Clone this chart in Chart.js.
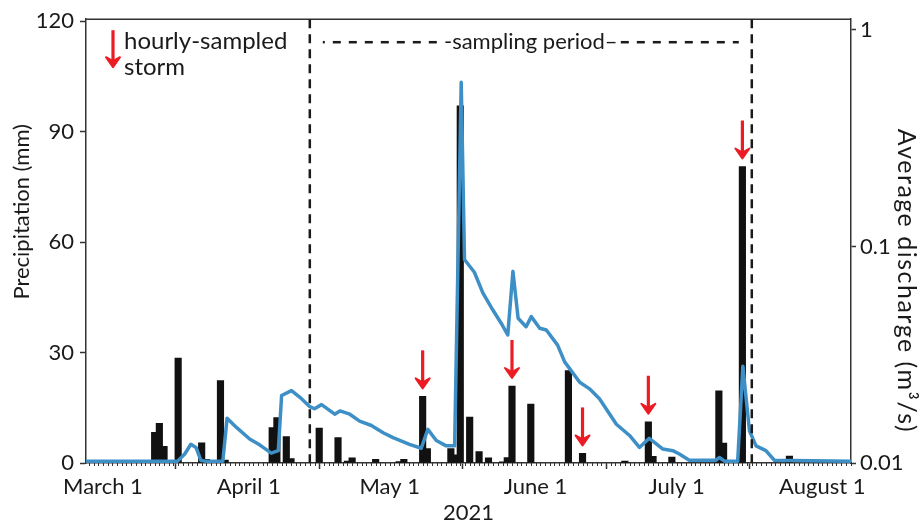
<!DOCTYPE html>
<html>
<head>
<meta charset="utf-8">
<script src="https://cdn.jsdelivr.net/npm/chart.js@4.4.0/dist/chart.umd.min.js"></script>
<style>
  html, body { margin: 0; padding: 0; background: #fff; }
  #wrap { width: 921px; height: 523px; }
</style>
</head>
<body>
<div id="wrap"><canvas id="chart"></canvas></div>
<script>
// x axis is counted in days after March 1, 2021
const monthTickDates = ['2021-03-01', '2021-04-01', '2021-05-01', '2021-06-01', '2021-07-01', '2021-08-01'];
const monthTickLabels = ['March 1', 'April 1', 'May 1', 'June 1', 'July 1', 'August 1'];
const xRange = [-3.6, 159.1];

// daily precipitation (mm)
const rainDates = [
    '2021-03-12', '2021-03-13', '2021-03-14', '2021-03-17', '2021-03-22', '2021-03-23',
    '2021-03-26', '2021-03-27', '2021-04-06', '2021-04-07', '2021-04-09', '2021-04-10',
    '2021-04-16', '2021-04-20', '2021-04-22', '2021-04-23', '2021-04-28', '2021-05-03',
    '2021-05-04', '2021-05-08', '2021-05-09', '2021-05-14', '2021-05-15', '2021-05-16',
    '2021-05-18', '2021-05-20', '2021-05-22', '2021-05-25', '2021-05-26', '2021-05-27',
    '2021-05-31', '2021-06-08', '2021-06-11', '2021-06-20', '2021-06-25', '2021-06-26',
    '2021-06-30', '2021-07-10', '2021-07-11', '2021-07-15', '2021-07-25'
];
const rainMM = [
    8.3, 10.8, 4.5, 28.5, 5.5, 1.0,
    22.4, 0.8, 9.6, 12.3, 7.2, 1.2,
    9.5, 6.9, 0.5, 1.4, 1.0, 0.4,
    1.0, 18.1, 3.9, 3.9, 2.2, 97,
    12.5, 3.1, 1.4, 0.3, 1.5, 20.9,
    16.0, 25.1, 2.6, 0.5, 11.2, 1.8,
    1.6, 19.6, 5.4, 80.5, 1.9
];

// storms sampled hourly (red arrows)
const stormDates = ['2021-05-08', '2021-05-27', '2021-06-11', '2021-06-25', '2021-07-15'];

// average discharge (m3/s), read at breakpoints of the curve
const flowDay = [
    -3.6, 15.9, 17.4, 18.7, 19.8, 20.8, 21.7, 25.5, 26.4, 28.4,
    31.2, 33.4, 35.8, 37.3, 38.0, 40.1, 41.9, 44.0, 45.0, 46.5,
    49.3, 50.4, 52.5, 54.6, 57.1, 59.6, 61.7, 65.2, 67.7, 69.1,
    70.9, 73.0, 74.8, 76.2, 76.9, 78.0, 79.0, 80.8, 82.9, 84.7,
    86.1, 87.2, 88.3, 90.0, 91.1, 92.9, 94.3, 96.7, 98.2, 101.4,
    103.5, 105.6, 109.2, 112.0, 114.1, 116.2, 119.1, 121.2, 122.6, 124.7,
    130.4, 131.1, 132.2, 135.0, 136.1, 137.5, 138.9, 141.0, 142.8, 159.1
];
const flowM3s = [
    0.0102, 0.0102, 0.011, 0.0122, 0.0118, 0.0103, 0.0102, 0.0102, 0.0161, 0.0146,
    0.0129, 0.0121, 0.0111, 0.0114, 0.0205, 0.0216, 0.0201, 0.0182, 0.0178, 0.0186,
    0.0168, 0.0174, 0.0168, 0.0156, 0.0149, 0.0138, 0.0131, 0.0122, 0.0117, 0.0143,
    0.0127, 0.0120, 0.0120, 0.573, 0.087, 0.081, 0.076, 0.061, 0.051, 0.0442,
    0.039, 0.0767, 0.0466, 0.0426, 0.0474, 0.0419, 0.0411, 0.035, 0.0293, 0.0236,
    0.0220, 0.0198, 0.0151, 0.0134, 0.0118, 0.0130, 0.0116, 0.0114, 0.0110, 0.0103,
    0.0103, 0.0106, 0.0102, 0.0102, 0.028, 0.0141, 0.0120, 0.0114, 0.0103, 0.0102
];

const leftTicks = [0, 30, 60, 90, 120];
const rightTicks = [0.01, 0.1, 1];
const samplingPeriod = ['2021-04-14', '2021-07-17'];

const FONT = 'Lato';
const INK = '#1a1a1a';
const RED = '#ec1c24';

const dayOf = (s) => {
    const [y, m, d] = s.split('-').map(Number);
    return (Date.UTC(y, m - 1, d) - Date.UTC(2021, 2, 1)) / 86400000;
};

function drawArrow(ctx, x, yTop, yTip) {
    ctx.save();
    ctx.strokeStyle = RED;
    ctx.fillStyle = RED;
    ctx.lineWidth = 3.2;
    ctx.beginPath();
    ctx.moveTo(x, yTop);
    ctx.lineTo(x, yTip - 6);
    ctx.stroke();
    ctx.lineJoin = 'round';
    ctx.lineWidth = 2;
    ctx.beginPath();
    ctx.moveTo(x - 7, yTip - 10);
    ctx.lineTo(x, yTip);
    ctx.lineTo(x + 7, yTip - 10);
    ctx.lineTo(x, yTip - 6);
    ctx.closePath();
    ctx.fill();
    ctx.stroke();
    ctx.restore();
}

// everything drawn on top of the datasets: frame, minor ticks, sampling period, arrows, titles
const annotations = {
    id: 'annotations',
    afterDatasetsDraw(chart) {
        const { ctx, chartArea: a, scales } = chart;
        const xs = scales.x, ys = scales.y;
        ctx.save();

        // top frame line
        ctx.strokeStyle = '#333';
        ctx.lineWidth = 1.5;
        ctx.beginPath();
        ctx.moveTo(a.left, a.top);
        ctx.lineTo(a.right, a.top);
        ctx.stroke();

        // daily minor ticks
        ctx.lineWidth = 1;
        for (let d = Math.ceil(xRange[0]); d <= xRange[1]; d++) {
            const px = Math.round(xs.getPixelForValue(d)) + 0.5;
            ctx.beginPath();
            ctx.moveTo(px, a.bottom);
            ctx.lineTo(px, a.bottom + 3);
            ctx.stroke();
        }

        // sampling period
        const x1 = xs.getPixelForValue(dayOf(samplingPeriod[0]));
        const x2 = xs.getPixelForValue(dayOf(samplingPeriod[1]));
        ctx.strokeStyle = INK;
        ctx.lineWidth = 2.5;
        ctx.setLineDash([9, 6]);
        [x1, x2].forEach(px => {
            ctx.beginPath();
            ctx.moveTo(px, a.top);
            ctx.lineTo(px, a.bottom);
            ctx.stroke();
        });
        const hy = a.top + 23;
        ctx.setLineDash([8, 8]);
        ctx.lineDashOffset = 6;
        ctx.beginPath();
        ctx.moveTo(x1 + 13, hy);
        ctx.lineTo(x2 - 13, hy);
        ctx.stroke();
        ctx.setLineDash([]);
        ctx.font = `22px ${FONT}`;
        ctx.textAlign = 'center';
        ctx.textBaseline = 'middle';
        const label = '-sampling period–';
        const tw = ctx.measureText(label).width;
        const cx = (x1 + x2) / 2;
        ctx.fillStyle = '#fff';
        ctx.fillRect(cx - tw / 2 - 1, hy - 13, tw + 2, 26);
        ctx.fillStyle = INK;
        ctx.fillText(label, cx, hy);

        // storm arrows above their bars
        stormDates.forEach(d => {
            const px = xs.getPixelForValue(dayOf(d));
            const top = ys.getPixelForValue(rainMM[rainDates.indexOf(d)]);
            drawArrow(ctx, px, top - 46, top - 8);
        });

        // legend
        drawArrow(ctx, a.left + 27, a.top + 11, a.top + 48);
        ctx.fillStyle = INK;
        ctx.textAlign = 'left';
        ctx.font = `24px ${FONT}`;
        ctx.fillText('hourly-sampled', a.left + 38, a.top + 22);
        ctx.fillText('storm', a.left + 38, a.top + 48);

        // axis titles
        ctx.font = `22px ${FONT}`;
        ctx.textAlign = 'center';
        ctx.save();
        ctx.translate(22, a.top + (a.bottom - a.top) * 0.434);
        ctx.rotate(-Math.PI / 2);
        ctx.fillText('Precipitation (mm)', 0, 0);
        ctx.restore();
        ctx.save();
        ctx.font = `25px ${FONT}`;
        ctx.letterSpacing = '1.5px';
        ctx.translate(906, a.top + (a.bottom - a.top) * 0.59);
        ctx.rotate(Math.PI / 2);
        ctx.fillText('Average discharge (m³/s)', 0, 0);
        ctx.restore();
        ctx.fillText('2021', (a.left + a.right) / 2, 513);

        ctx.restore();
    }
};

new Chart(document.getElementById('chart'), {
    type: 'bar',
    data: {
        datasets: [{
            type: 'line',
            label: 'Average discharge',
            data: flowDay.map((d, i) => ({ x: d, y: flowM3s[i] })),
            yAxisID: 'y2',
            borderColor: '#3d8fc6',
            borderWidth: 3.5,
            borderJoinStyle: 'round',
            pointRadius: 0,
            tension: 0,
            order: 0
        }, {
            label: 'Precipitation',
            data: rainDates.map((d, i) => ({ x: dayOf(d), y: rainMM[i] })),
            yAxisID: 'y',
            backgroundColor: '#111',
            barThickness: 6.5,
            order: 1
        }]
    },
    options: {
        responsive: true,
        maintainAspectRatio: false,
        animation: false,
        layout: { padding: { top: 18, left: 0, right: 0, bottom: 0 } },
        plugins: { legend: { display: false }, tooltip: { enabled: false } },
        scales: {
            x: {
                type: 'linear',
                min: xRange[0],
                max: xRange[1],
                offset: false,
                afterBuildTicks: (s) => { s.ticks = monthTickDates.map(d => ({ value: dayOf(d) })); },
                afterFit: (s) => { s.height = 60; },
                ticks: {
                    autoSkip: false,
                    maxRotation: 0,
                    padding: 5,
                    color: INK,
                    font: { family: FONT, size: 22 },
                    callback: (v, i) => monthTickLabels[i]
                },
                grid: { drawOnChartArea: false, tickLength: 6, tickColor: '#333', tickWidth: 1.5 },
                border: { color: '#333', width: 1.5 }
            },
            y: {
                position: 'left',
                min: 0,
                max: 120.5,
                afterBuildTicks: (s) => { s.ticks = leftTicks.map(v => ({ value: v })); },
                afterFit: (s) => { s.width = 86; },
                ticks: { padding: 6, color: INK, font: { family: FONT, size: 22 } },
                grid: { drawOnChartArea: false, tickLength: 6, tickColor: '#333', tickWidth: 1.5 },
                border: { color: '#333', width: 1.5 }
            },
            y2: {
                type: 'logarithmic',
                position: 'right',
                min: 0.01,
                max: 1.12,
                afterBuildTicks: (s) => { s.ticks = rightTicks.map(v => ({ value: v })); },
                afterFit: (s) => { s.width = 70; },
                ticks: {
                    padding: 4,
                    color: INK,
                    font: { family: FONT, size: 22 },
                    callback: (v) => String(v)
                },
                grid: { drawOnChartArea: false, tickLength: 5, tickColor: '#333', tickWidth: 1.5 },
                border: { color: '#333', width: 1.5 }
            }
        }
    },
    plugins: [annotations]
});
</script>
</body>
</html>
